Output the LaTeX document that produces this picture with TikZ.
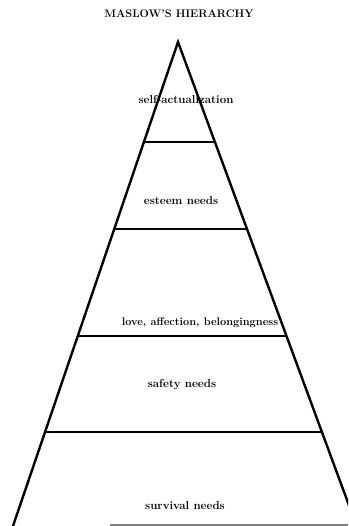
\documentclass[tikz,border=0pt]{standalone}
\usetikzlibrary{calc}
\begin{document}
\begin{tikzpicture}[x=1pt,y=-1pt,
  edge/.style={line width=2.4pt},
  tier/.style={line width=1.9pt},
  lbl/.style={font=\bfseries\fontsize{11.5}{13}\selectfont, inner sep=0pt},
  ttl/.style={font=\bfseries\fontsize{11}{13}\selectfont, inner sep=0pt}]
\useasboundingbox (0,0) rectangle (348,526);
\clip (0,0) rectangle (348,526);
\coordinate (apex) at (178,42);
\coordinate (bl) at (13,526);
\coordinate (br) at (356.6,526);
\node[ttl] (title) at (179,14) {MASLOW'S HIERARCHY};
\draw[edge,line join=miter] (bl) -- (apex) -- (br);
\foreach \n/\t in {a/0.2066, b/0.3864, c/0.6074, d/0.8058}{
  \coordinate (l\n) at ($(apex)!\t!(bl)$);
  \coordinate (r\n) at ($(apex)!\t!(br)$);
  \draw[tier] (l\n) -- (r\n);
}
\coordinate (b0) at (110,525);
\coordinate (b1) at (350,525);
\draw[tier,gray] (b0) -- (b1);
\node[lbl] (s1) at (186,100) {self-actualization};
\node[lbl] (s2) at (181,201) {esteem needs};
\node[lbl,font=\bfseries\fontsize{11}{13}\selectfont] (s3) at (200,323) {love, affection, belongingness};
\node[lbl] (s4) at (182,385) {safety needs};
\node[lbl] (s5) at (185,506) {survival needs};
\end{tikzpicture}
\end{document}
